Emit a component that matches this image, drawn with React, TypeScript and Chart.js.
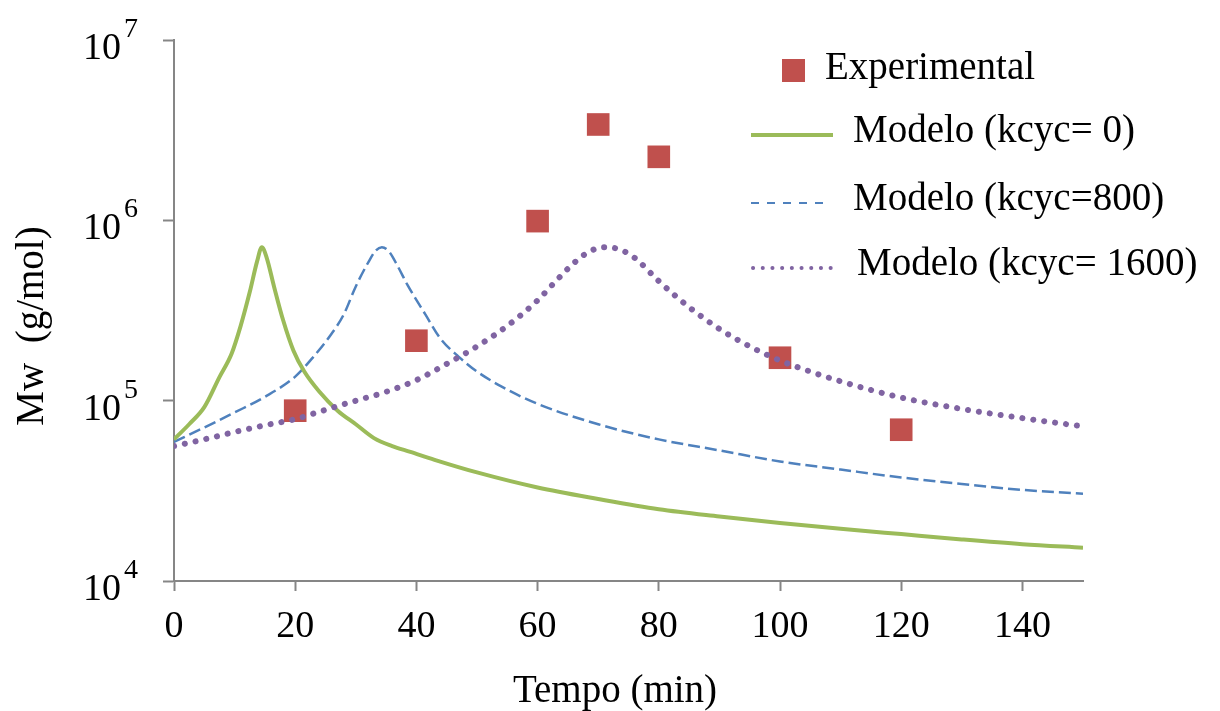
import React, { useEffect, useRef } from 'react';
import { Chart, registerables } from 'chart.js';

Chart.register(...registerables);

const FONT = '"Liberation Serif", "Times New Roman", serif';
const AXIS = '#868686';
const RED = '#C0504D';
const GREEN = '#9BBB59';
const BLUE = '#4F81BD';
const PURPLE = '#8064A2';

const seriesLabels = ['Experimental', 'Modelo (kcyc= 0)', 'Modelo (kcyc=800)', 'Modelo (kcyc= 1600)'];
const xTicks = [0, 20, 40, 60, 80, 100, 120, 140];
const yTicks = [1e4, 1e5, 1e6, 1e7];

const timeExp = [20, 40, 60, 70, 80, 100, 120];
const mwExp = [8.8e4, 2.15e5, 9.9e5, 3.4e6, 2.25e6, 1.73e5, 6.9e4];

const timeK0 = [0, 2.5, 5, 7.5, 9.5, 11, 12.5, 13.7, 14.5, 15.3, 16.5, 18, 19.7, 21.5, 24, 27, 30, 33, 36, 39, 43, 50, 60, 70, 80, 90, 100, 110, 120, 130, 140, 150];
const mwK0 = [6.1e4, 7.4e4, 9.2e4, 1.35e5, 1.82e5, 2.6e5, 4.0e5, 5.9e5, 7.1e5, 6.2e5, 4.3e5, 2.8e5, 1.9e5, 1.45e5, 1.12e5, 8.8e4, 7.4e4, 6.2e4, 5.6e4, 5.2e4, 4.7e4, 4.0e4, 3.3e4, 2.85e4, 2.5e4, 2.28e4, 2.1e4, 1.95e4, 1.82e4, 1.7e4, 1.6e4, 1.53e4];

const timeK800 = [0, 5, 10, 15, 20, 23, 26, 28, 30, 32, 33.3, 34.3, 35.5, 37, 38.5, 41.5, 44, 47, 50, 54, 60, 70, 80, 90, 100, 110, 120, 130, 140, 150];
const mwK800 = [5.9e4, 7.1e4, 8.6e4, 1.05e5, 1.36e5, 1.75e5, 2.35e5, 3.0e5, 4.3e5, 5.8e5, 6.8e5, 7.1e5, 6.7e5, 5.5e5, 4.4e5, 3.0e5, 2.2e5, 1.75e5, 1.45e5, 1.2e5, 9.6e4, 7.4e4, 6.1e4, 5.3e4, 4.6e4, 4.15e4, 3.75e4, 3.45e4, 3.2e4, 3.05e4];

const timeK1600 = [0, 5, 10, 15, 20, 25, 30, 35, 40, 45, 50, 55, 60, 63, 66, 68.5, 71, 73.5, 76, 80, 85, 90, 95, 100, 105, 110, 120, 130, 140, 150];
const mwK1600 = [5.6e4, 6.1e4, 6.7e4, 7.3e4, 7.9e4, 8.9e4, 1.0e5, 1.12e5, 1.3e5, 1.6e5, 2.0e5, 2.6e5, 3.6e5, 4.6e5, 5.8e5, 6.7e5, 7.1e5, 6.9e5, 6.2e5, 4.6e5, 3.3e5, 2.5e5, 2.0e5, 1.67e5, 1.45e5, 1.28e5, 1.04e5, 9.0e4, 8.0e4, 7.2e4];

const toPoints = (xs: number[], ys: number[]) => xs.map((x, i) => ({ x, y: ys[i] }));

const textPlugin = {
  id: 'customText',
  afterDraw(chart: any) {
    const ctx: CanvasRenderingContext2D = chart.ctx;
    const ys = chart.scales.y;
    const area = chart.chartArea;
    ctx.save();
    ctx.fillStyle = '#000';

    // y tick labels: 10^n
    for (const t of ys.ticks) {
      const py = ys.getPixelForValue(t.value);
      const exp = Math.round(Math.log10(t.value));
      ctx.font = `38px ${FONT}`;
      ctx.textAlign = 'right';
      ctx.textBaseline = 'alphabetic';
      ctx.fillText('10', area.left - 53, py + 19);
      ctx.font = `28px ${FONT}`;
      ctx.textAlign = 'left';
      ctx.fillText(String(exp), area.left - 50, py - 3);
    }

    // y title
    ctx.save();
    ctx.translate(43, 326);
    ctx.rotate(-Math.PI / 2);
    ctx.font = `39px ${FONT}`;
    ctx.textAlign = 'center';
    ctx.textBaseline = 'alphabetic';
    ctx.fillText('Mw  (g/mol)', 0, 0);
    ctx.restore();

    // x title
    ctx.font = `39px ${FONT}`;
    ctx.textAlign = 'center';
    ctx.textBaseline = 'alphabetic';
    ctx.fillText('Tempo (min)', 615, 702);

    // legend
    ctx.font = `39px ${FONT}`;
    ctx.textAlign = 'left';
    ctx.fillStyle = RED;
    ctx.fillRect(782, 59, 23, 23);
    ctx.fillStyle = '#000';
    ctx.fillText(seriesLabels[0], 825, 79);

    ctx.strokeStyle = GREEN;
    ctx.lineWidth = 4;
    ctx.setLineDash([]);
    ctx.beginPath();
    ctx.moveTo(751, 135);
    ctx.lineTo(833, 135);
    ctx.stroke();
    ctx.fillText(seriesLabels[1], 853, 142);

    ctx.strokeStyle = BLUE;
    ctx.lineWidth = 2;
    ctx.setLineDash([8, 8]);
    ctx.beginPath();
    ctx.moveTo(751, 203);
    ctx.lineTo(830, 203);
    ctx.stroke();
    ctx.fillText(seriesLabels[2], 853, 210);

    ctx.strokeStyle = PURPLE;
    ctx.lineWidth = 4;
    ctx.lineCap = 'round';
    ctx.setLineDash([0.1, 9.6]);
    ctx.beginPath();
    ctx.moveTo(753, 268);
    ctx.lineTo(832, 268);
    ctx.stroke();
    ctx.setLineDash([]);
    ctx.fillText(seriesLabels[3], 857, 275);

    ctx.restore();
  },
};

export default function App() {
  const ref = useRef<HTMLCanvasElement | null>(null);

  useEffect(() => {
    if (!ref.current) return;
    const chart = new Chart(ref.current, {
      type: 'line',
      data: {
        datasets: [
          {
            label: seriesLabels[0],
            data: toPoints(timeExp, mwExp),
            showLine: false,
            pointStyle: 'rect',
            pointRadius: 16,
            pointHoverRadius: 16,
            backgroundColor: RED,
            borderColor: RED,
            borderWidth: 0,
            order: 4,
          },
          {
            label: seriesLabels[1],
            data: toPoints(timeK0, mwK0),
            borderColor: GREEN,
            borderWidth: 4,
            pointRadius: 0,
            cubicInterpolationMode: 'monotone',
            order: 2,
          },
          {
            label: seriesLabels[2],
            data: toPoints(timeK800, mwK800),
            borderColor: BLUE,
            borderWidth: 2.5,
            borderDash: [12, 5],
            pointRadius: 0,
            cubicInterpolationMode: 'monotone',
            order: 3,
          },
          {
            label: seriesLabels[3],
            data: toPoints(timeK1600, mwK1600),
            borderColor: PURPLE,
            borderWidth: 6,
            borderDash: [0.1, 10.9],
            borderCapStyle: 'round',
            pointRadius: 0,
            cubicInterpolationMode: 'monotone',
            order: 1,
          },
        ],
      } as any,
      options: {
        animation: false,
        responsive: false,
        maintainAspectRatio: false,
        devicePixelRatio: 1,
        layout: { padding: { top: 40, right: 137, left: 0, bottom: 0 } },
        plugins: {
          legend: { display: false },
          tooltip: { enabled: false },
          title: { display: false },
        },
        events: [],
        scales: {
          x: {
            type: 'linear',
            min: 0,
            max: 150,
            afterBuildTicks: (s: any) => {
              s.ticks = xTicks.map((v) => ({ value: v }));
            },
            afterFit: (s: any) => {
              s.height = 130;
            },
            grid: {
              display: true,
              drawOnChartArea: false,
              drawTicks: true,
              tickLength: 10,
              tickWidth: 2,
              tickColor: AXIS,
            },
            border: { display: true, color: AXIS, width: 2 },
            ticks: {
              color: '#000',
              font: { family: FONT, size: 38 },
              padding: 13,
              maxRotation: 0,
              autoSkip: false,
            },
          },
          y: {
            type: 'logarithmic',
            min: 1e4,
            max: 1e7,
            afterBuildTicks: (s: any) => {
              s.ticks = yTicks.map((v) => ({ value: v }));
            },
            afterFit: (s: any) => {
              s.width = 174;
            },
            grid: {
              display: true,
              drawOnChartArea: false,
              drawTicks: true,
              tickLength: 11,
              tickWidth: 2,
              tickColor: AXIS,
            },
            border: { display: true, color: AXIS, width: 2 },
            ticks: { display: false },
          },
        },
      } as any,
      plugins: [textPlugin],
    });
    return () => chart.destroy();
  }, []);

  return (
    <div style={{ position: 'fixed', left: 0, top: 0, width: 1220, height: 711, background: '#fff' }}>
      <canvas ref={ref} width={1220} height={711} style={{ display: 'block', width: 1220, height: 711 }} />
    </div>
  );
}
